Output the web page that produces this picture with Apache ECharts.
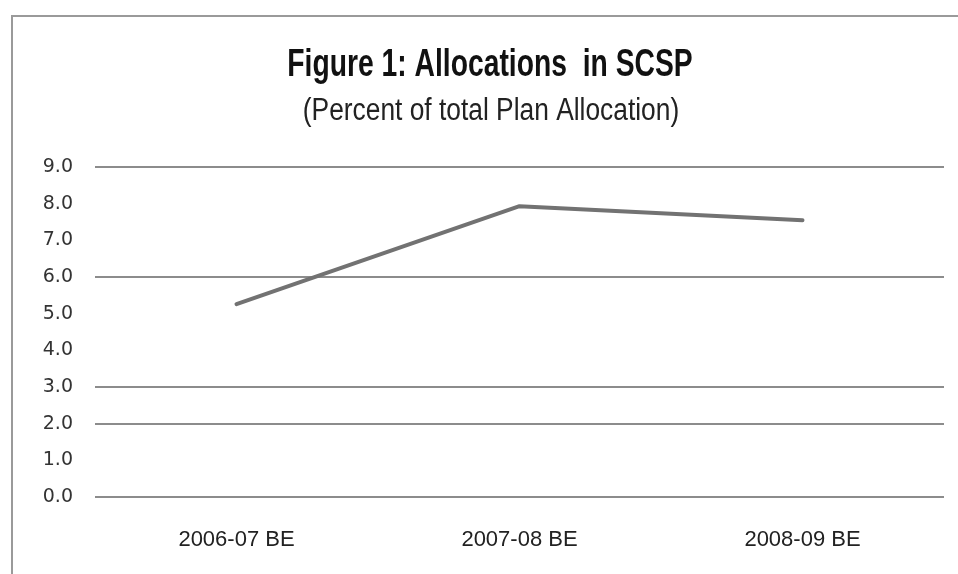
<!DOCTYPE html>
<html>
<head>
<meta charset="utf-8">
<title>Figure 1: Allocations in SCSP</title>
<script src="https://cdn.jsdelivr.net/npm/echarts@6/dist/echarts.min.js"></script>
<style>
  html, body { margin: 0; padding: 0; background: #ffffff; }
  #chart { width: 958px; height: 574px; }
</style>
</head>
<body>
<div id="chart"></div>
<script>
// Budget years (BE = Budget Estimates)
const years = ['2006-07 BE', '2007-08 BE', '2008-09 BE'];
// Share of SCSP in total Plan allocation, percent
const scspShare = [5.26, 7.93, 7.55];
// Y axis range and step
const yMin = 0;
const yMax = 9;
const yStep = 1;
// Gridlines drawn at 0, 2, 3, 6 and 9 only
const gridVisible = [true, false, true, true, false, false, true, false, false, true];
// Heading lines
const titleText = 'Figure 1: Allocations  in SCSP';
const subtitleText = '(Percent of total Plan Allocation)';

const gridColors = gridVisible.map(v => v ? '#8c8c8c' : 'rgba(0,0,0,0)');

const chart = echarts.init(document.getElementById('chart'), null, { renderer: 'canvas' });

chart.setOption({
  backgroundColor: '#ffffff',
  animation: false,
  graphic: [
    {
      type: 'rect',
      shape: { x: 12, y: 16, width: 960, height: 580 },
      style: { fill: 'none', stroke: '#9a9a9a', lineWidth: 2 },
      silent: true
    },
    {
      // condensed heading: regular face squeezed horizontally
      type: 'group',
      x: 490,
      y: 65,
      scaleX: 0.725,
      children: [{
        type: 'text',
        x: 0,
        y: 0,
        style: {
          text: titleText,
          x: 0,
          y: 0,
          align: 'center',
          verticalAlign: 'middle',
          fontFamily: 'Liberation Sans',
          fontWeight: 'bold',
          fontSize: 39,
          fill: '#111111'
        }
      }]
    },
    {
      type: 'group',
      x: 491,
      y: 111,
      scaleX: 0.85,
      children: [{
        type: 'text',
        x: 0,
        y: 0,
        style: {
          text: subtitleText,
          x: 0,
          y: 0,
          align: 'center',
          verticalAlign: 'middle',
          fontFamily: 'Liberation Sans',
          fontWeight: 'normal',
          fontSize: 31,
          fill: '#222222'
        }
      }]
    }
  ],
  grid: { left: 95, right: 14, top: 167, bottom: 77, containLabel: false },
  xAxis: {
    type: 'category',
    data: years,
    boundaryGap: true,
    axisLine: { show: false },
    axisTick: { show: false },
    splitLine: { show: false },
    axisLabel: {
      margin: 32,
      fontFamily: 'Liberation Sans',
      fontSize: 22,
      color: '#222222'
    }
  },
  yAxis: {
    type: 'value',
    min: yMin,
    max: yMax,
    interval: yStep,
    axisLine: { show: false },
    axisTick: { show: false },
    axisLabel: {
      margin: 22,
      fontFamily: 'DejaVu Sans',
      fontSize: 19,
      color: '#333333',
      formatter: v => v.toFixed(1)
    },
    splitLine: {
      show: true,
      lineStyle: { color: gridColors, width: 2 }
    }
  },
  series: [{
    type: 'line',
    data: scspShare,
    symbol: 'none',
    lineStyle: { color: '#727272', width: 4, cap: 'round', join: 'round' }
  }]
});
</script>
</body>
</html>
